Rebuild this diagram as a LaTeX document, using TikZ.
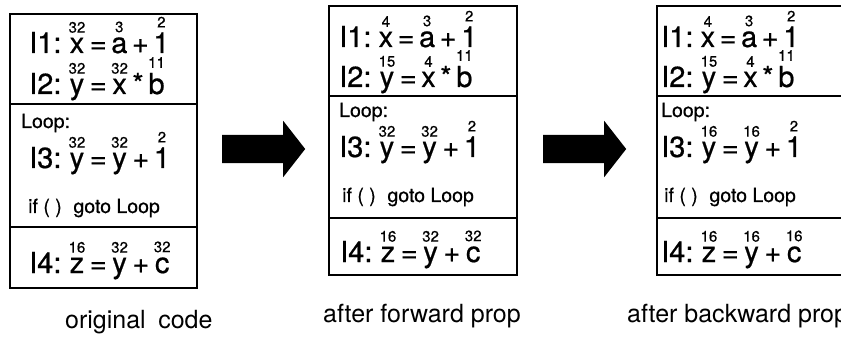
\documentclass[tikz,border=0pt]{standalone}
\usepackage{fontspec}
\setmainfont{TeX Gyre Heros}
\newfontfamily\codefont[FakeBold=0.6]{TeX Gyre Heros}
\usetikzlibrary{positioning,shapes.arrows}
\newcommand{\bwfont}{\fontsize{15}{15}\selectfont}
\newcommand{\codesize}{\codefont\fontsize{29}{31}\selectfont\spaceskip=4.5pt plus 1pt minus 1pt\relax}
\newcommand{\bw}[2]{\leavevmode\vbox{\offinterlineskip\halign{\hfil##\hfil\cr{\bwfont #1}\cr\noalign{\kern5pt}#2\cr}}}
\tikzset{
  code box/.style={draw=black,line width=1.2pt,minimum width=187pt,inner sep=0pt,outer sep=0pt},
  code line/.style={font=\codesize,inner sep=0pt,anchor=base west},
  code note/.style={font=\codefont\fontsize{19.5}{20}\selectfont,inner sep=0pt,anchor=base west},
  step arrow/.style={single arrow,fill=black,draw=none,minimum height=83pt,inner xsep=0pt,inner ysep=14pt,
    single arrow head extend=14pt,single arrow tip angle=104,anchor=tail},
  caption/.style={font=\fontsize{25}{26}\selectfont,inner sep=0pt,anchor=base west}
}

\begin{document}
\begin{tikzpicture}[x=1pt,y=-1pt]
  \useasboundingbox (0,0) rectangle (841,339);
  \clip (0,0) rectangle (841,339);

  % original code
  \node[code box,minimum height=90pt,anchor=north west] (orig top) at (10,14) {};
  \node[code box,minimum height=123pt,below=0pt of orig top] (orig loop) {};
  \node[code box,minimum height=61pt,below=0pt of orig loop] (orig tail) {};
  \node[code line] (orig i1) at (29,53) {I1: \bw{32}{x} = \bw{3}{a} + \bw{2}{1}};
  \node[code line] (orig i2) at (29,94) {I2: \bw{32}{y} = \bw{32}{x} * \bw{11}{b}};
  \node[code note] (orig label) at (21,128) {Loop:};
  \node[code line] (orig i3) at (29,168) {I3: \bw{32}{y} = \bw{32}{y} + \bw{2}{1}};
  \node[code note] (orig branch) at (28,213) {if ( )\hspace{0.6em}goto Loop};
  \node[code line] (orig i4) at (29,273) {I4: \bw{16}{z} = \bw{32}{y} + \bw{32}{c}};
  \node[caption] (orig cap) at (65,328) {original\hspace{0.5em}code};

  \node[step arrow] (fwd arrow) at (222,149) {};

  % after forward prop
  \node[code box,minimum width=188pt,minimum height=90pt,anchor=north west] (fwd top) at (329,6) {};
  \node[code box,minimum width=188pt,minimum height=122pt,below=0pt of fwd top] (fwd loop) {};
  \node[code box,minimum width=188pt,minimum height=57pt,below=0pt of fwd loop] (fwd tail) {};
  \node[code line] (fwd i1) at (339,47) {I1: \bw{4}{x} = \bw{3}{a} + \bw{2}{1}};
  \node[code line] (fwd i2) at (339,87) {I2: \bw{15}{y} = \bw{4}{x} * \bw{11}{b}};
  \node[code note] (fwd label) at (339,117) {Loop:};
  \node[code line] (fwd i3) at (339,157) {I3: \bw{32}{y} = \bw{32}{y} + \bw{2}{1}};
  \node[code note] (fwd branch) at (342,202) {if ( )\hspace{0.6em}goto Loop};
  \node[code line] (fwd i4) at (340,262) {I4: \bw{16}{z} = \bw{32}{y} + \bw{32}{c}};
  \node[caption] (fwd cap) at (323,323) {after forward prop};

  \node[step arrow] (bwd arrow) at (543,149) {};

  % after backward prop
  \node[code box,minimum width=188pt,minimum height=90pt,anchor=north west] (bwd top) at (657,6) {};
  \node[code box,minimum width=188pt,minimum height=122pt,below=0pt of bwd top] (bwd loop) {};
  \node[code box,minimum width=188pt,minimum height=57pt,below=0pt of bwd loop] (bwd tail) {};
  \node[code line] (bwd i1) at (661,47) {I1: \bw{4}{x} = \bw{3}{a} + \bw{2}{1}};
  \node[code line] (bwd i2) at (661,87) {I2: \bw{15}{y} = \bw{4}{x} * \bw{11}{b}};
  \node[code note] (bwd label) at (661,117) {Loop:};
  \node[code line] (bwd i3) at (661,157) {I3: \bw{16}{y} = \bw{16}{y} + \bw{2}{1}};
  \node[code note] (bwd branch) at (664,202) {if ( )\hspace{0.6em}goto Loop};
  \node[code line] (bwd i4) at (661,262) {I4: \bw{16}{z} = \bw{16}{y} + \bw{16}{c}};
  \node[caption] (bwd cap) at (627,323) {after backward prop};
\end{tikzpicture}
\end{document}
